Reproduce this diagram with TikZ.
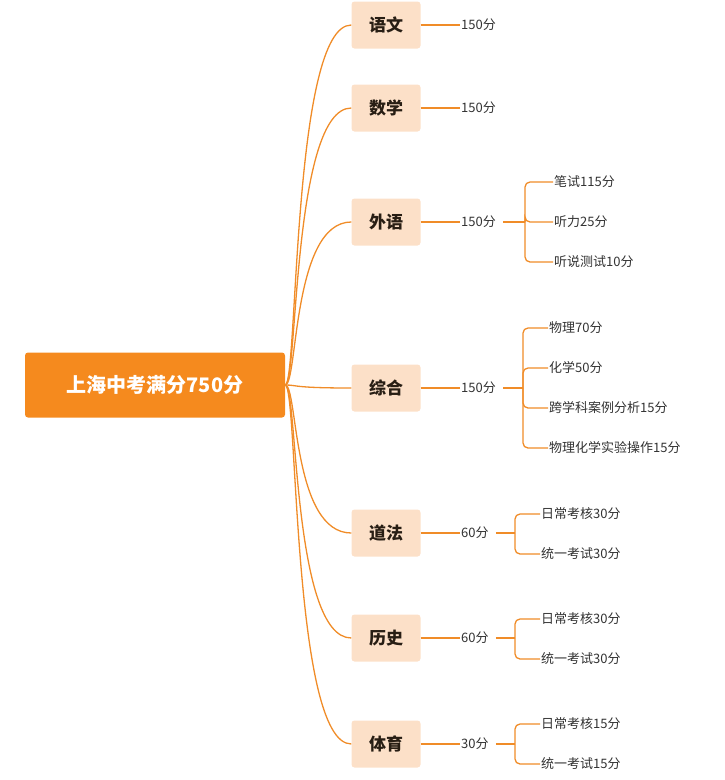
\documentclass[tikz,border=0pt]{standalone}
\usepackage{fontspec}
\setmainfont{Noto Sans CJK SC}
\begin{document}
\begin{tikzpicture}[x=1pt,y=-1pt,
  ln/.style={draw=orange!80!red!70!yellow, color={rgb,255:red,240;green,140;blue,40}, line width=1.3pt},
  l1/.style={fill={rgb,255:red,252;green,224;blue,200}, rounded corners=3pt, minimum width=69pt, minimum height=47pt, font=\fontsize{17}{17}\selectfont\bfseries, text={rgb,255:red,40;green,30;blue,20}},
  lbl/.style={anchor=west, font=\fontsize{13}{13}\selectfont, inner sep=1pt, text={rgb,255:red,50;green,50;blue,50}}]
\useasboundingbox (0,0) rectangle (724,780);
\definecolor{oc}{RGB}{240,140,40}
\node[fill={rgb,255:red,245;green,138;blue,30}, rounded corners=3pt, minimum width=260pt, minimum height=65pt, text=white, font=\fontsize{20}{20}\selectfont\bfseries] (root) at (155,385) {上海中考满分750分};
\foreach \n/\t/\y in {a/语文/25,b/数学/108,c/外语/222,d/综合/388,e/道法/533,f/历史/638,g/体育/744}{
  \node[l1] (\n) at (386,\y) {\t};
  \draw[oc, line width=1.3pt] (root.east) .. controls (298,385) and (292,\y) .. (\n.west);
}
\foreach \n/\t in {a/150分,b/150分,c/150分,d/150分,e/60分,f/60分,g/30分}{
  \node[lbl] (\n l) at (460,0 |- \n) {\t};
  \draw[oc, line width=1.3pt] (\n.east) -- (\n l.west);
}
% children
\node[lbl] (c1) at (553,182) {笔试115分};
\node[lbl] (c2) at (553,222) {听力25分};
\node[lbl] (c3) at (553,262) {听说测试10分};
\node[lbl] (d1) at (548,328) {物理70分};
\node[lbl] (d2) at (548,368) {化学50分};
\node[lbl] (d3) at (548,408) {跨学科案例分析15分};
\node[lbl] (d4) at (548,448) {物理化学实验操作15分};
\node[lbl] (e1) at (540,514) {日常考核30分};
\node[lbl] (e2) at (540,554) {统一考试30分};
\node[lbl] (f1) at (540,619) {日常考核30分};
\node[lbl] (f2) at (540,659) {统一考试30分};
\node[lbl] (g1) at (540,724) {日常考核15分};
\node[lbl] (g2) at (540,764) {统一考试15分};
\begin{scope}[oc, line width=1.3pt, rounded corners=5pt]
\coordinate (cv) at (525,222);
\draw (cl.east) ++(6,0) -- (cv);
\foreach \k in {c1,c2,c3} \draw (cv) |- (\k.west);
\coordinate (dv) at (523,388);
\draw (dl.east) ++(6,0) -- (dv);
\foreach \k in {d1,d2,d3,d4} \draw (dv) |- (\k.west);
\coordinate (ev) at (515,533);
\draw (el.east) ++(6,0) -- (ev);
\foreach \k in {e1,e2} \draw (ev) |- (\k.west);
\coordinate (fv) at (515,638);
\draw (fl.east) ++(6,0) -- (fv);
\foreach \k in {f1,f2} \draw (fv) |- (\k.west);
\coordinate (gv) at (515,744);
\draw (gl.east) ++(6,0) -- (gv);
\foreach \k in {g1,g2} \draw (gv) |- (\k.west);
\end{scope}
\end{tikzpicture}
\end{document}
